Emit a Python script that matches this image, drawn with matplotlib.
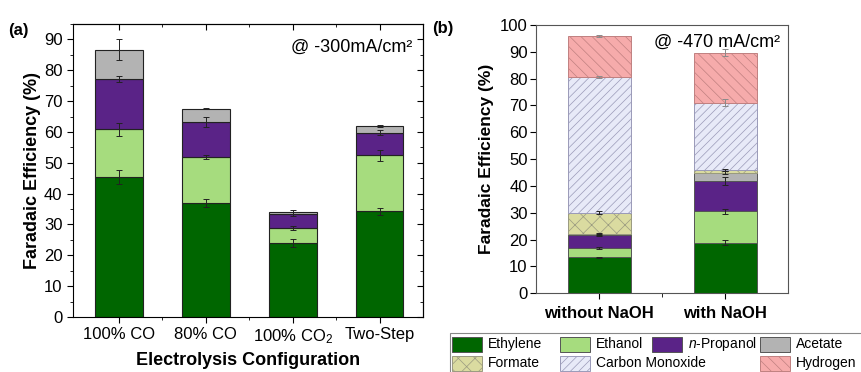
import numpy as np
import matplotlib
matplotlib.use("Agg")
import matplotlib.pyplot as plt
from matplotlib.ticker import MultipleLocator
from matplotlib.patches import Rectangle

plt.rcParams["font.family"] = ["Liberation Sans", "DejaVu Sans"]
plt.rcParams["mathtext.fontset"] = "custom"
plt.rcParams["mathtext.rm"] = "Liberation Sans"
plt.rcParams["mathtext.it"] = "Liberation Sans:italic"
plt.rcParams["mathtext.bf"] = "Liberation Sans:bold"
plt.rcParams["hatch.linewidth"] = 0.5

# ---- panel (a) data: FE (%) per product, stacked ----
configs_a   = ["100% CO", "80% CO", "100% CO$_2$", "Two-Step"]
ethylene_a  = [45.3, 36.9, 24.1, 34.3]
ethanol_a   = [15.5, 15.0, 4.8, 18.2]
propanol_a  = [16.4, 11.3, 4.6, 7.3]
acetate_a   = [9.5, 4.4, 0.6, 2.1]
ethylene_a_err = [2.3, 1.3, 1.3, 1.1]
ethanol_a_err  = [2.0, 0.7, 0.7, 1.8]
propanol_a_err = [1.1, 1.5, 0.6, 0.8]
acetate_a_err  = [3.5, 0.2, 0.6, 0.3]

# ---- panel (b) data ----
configs_b   = ["without NaOH", "with NaOH"]
ethylene_b  = [13.4, 18.9]
ethanol_b   = [3.5, 11.6]
propanol_b  = [4.8, 11.4]
acetate_b   = [0.4, 3.1]
formate_b   = [8.0, 1.1]
co_b        = [50.6, 25.0]
h2_b        = [15.2, 18.6]
ethylene_b_err = [0.3, 1.0]
ethanol_b_err  = [0.4, 0.8]
propanol_b_err = [0.4, 1.5]
acetate_b_err  = [0.2, 0.6]
formate_b_err  = [0.4, 0.4]
co_b_err       = [0.3, 1.2]
h2_b_err       = [0.2, 1.3]

names   = ["Ethylene", "Ethanol", r"$\it{n}$-Propanol", "Acetate",
           "Formate", "Carbon Monoxide", "Hydrogen"]
colors  = ["#006600", "#a6dc7e", "#5a2387", "#b3b3b3",
           "#dadba0", "#e8eaf8", "#f6abab"]
hatches = [None, None, None, None, "xx", "////", "\\\\\\"]
hatch_edges = [None, None, None, None, "#9a9a80", "#9a9ab8", "#c08080"]

fig = plt.figure(figsize=(8.61, 3.72), dpi=100)

# ================= (a) =================
ax1 = fig.add_axes([73/861, 1 - 317/372, 350/861, 293/372])
x_a = np.arange(1, len(configs_a) + 1)
bottom = np.zeros(len(x_a))
for vals, errs, c in zip([ethylene_a, ethanol_a, propanol_a, acetate_a],
                         [ethylene_a_err, ethanol_a_err, propanol_a_err, acetate_a_err],
                         colors[:4]):
    ax1.bar(x_a, vals, 0.55, bottom=bottom, color=c, edgecolor="#222222", linewidth=0.8)
    bottom = bottom + np.array(vals)
    ax1.errorbar(x_a, bottom, yerr=errs, fmt="none", ecolor="#222222",
                 elinewidth=0.7, capsize=2, capthick=0.7)

ax1.set_xlim(0.47, 4.5)
ax1.set_ylim(0, 95)
ax1.set_xticks(x_a)
ax1.set_xticklabels(configs_a, fontsize=12)
ax1.set_xticks([1.5, 2.5, 3.5], minor=True)
ax1.set_yticks(np.arange(0, 91, 10))
ax1.yaxis.set_minor_locator(MultipleLocator(5))
ax1.tick_params(axis="both", which="major", direction="out", length=4, labelsize=12)
ax1.tick_params(axis="both", which="minor", direction="out", length=2.5)
ax1.set_ylabel("Faradaic Efficiency (%)", fontsize=13, fontweight="bold", labelpad=2)
ax1.set_xlabel("Electrolysis Configuration", fontsize=13, fontweight="bold", labelpad=4)

top = ax1.secondary_xaxis("top")
top.set_xticks(x_a)
top.set_xticks([1.5, 2.5, 3.5], minor=True)
top.tick_params(which="major", direction="in", length=4, labeltop=False)
top.tick_params(which="minor", direction="in", length=2.5)
right = ax1.secondary_yaxis("right")
right.set_yticks(np.arange(0, 91, 10))
right.yaxis.set_minor_locator(MultipleLocator(5))
right.tick_params(which="major", direction="in", length=4, labelright=False)
right.tick_params(which="minor", direction="in", length=2.5)

ax1.text(0.97, 0.92, "@ -300mA/cm²", transform=ax1.transAxes, ha="right", va="center", fontsize=13)
fig.text(8/861, 1 - 30/372, "(a)", fontsize=12, fontweight="bold", ha="left", va="center")

# ================= (b) =================
ax2 = fig.add_axes([536/861, 1 - 293.3/372, 252/861, 268.3/372])
x_b = np.arange(1, len(configs_b) + 1)
bottom = np.zeros(len(x_b))
series_b = [ethylene_b, ethanol_b, propanol_b, acetate_b, formate_b, co_b, h2_b]
errs_b = [ethylene_b_err, ethanol_b_err, propanol_b_err, acetate_b_err,
          formate_b_err, co_b_err, h2_b_err]
for i, (vals, errs) in enumerate(zip(series_b, errs_b)):
    edge = hatch_edges[i] if hatch_edges[i] else "#555555"
    ax2.bar(x_b, vals, 0.5, bottom=bottom, color=colors[i], edgecolor=edge,
            linewidth=0.7, hatch=hatches[i])
    bottom = bottom + np.array(vals)
    ecol = "#222222" if i < 5 else "#8a8a8a"
    ax2.errorbar(x_b, bottom, yerr=errs, fmt="none", ecolor=ecol,
                 elinewidth=0.7, capsize=2, capthick=0.7)

ax2.set_xlim(0.5, 2.5)
ax2.set_ylim(0, 100)
ax2.set_xticks(x_b)
ax2.set_xticklabels(configs_b, fontsize=12.5, fontweight="bold")
ax2.set_xticks([1.5], minor=True)
ax2.set_yticks(np.arange(0, 101, 10))
ax2.tick_params(axis="both", which="major", direction="out", length=4, labelsize=12, pad=2)
ax2.tick_params(axis="x", which="minor", direction="out", length=3)
ax2.tick_params(axis="x", which="major", pad=5)
for s in ax2.spines.values():
    s.set_color("#555555")
ax2.set_ylabel("Faradaic Efficiency (%)", fontsize=12.5, fontweight="bold", labelpad=4)
ax2.text(0.97, 0.935, "@ -470 mA/cm²", transform=ax2.transAxes, ha="right", va="center", fontsize=13)
fig.text(432/861, 1 - 28/372, "(b)", fontsize=12, fontweight="bold", ha="left", va="center")

# ================= legend (two rows, frame runs off the figure edge) =================
def fx(px):
    return px / 861

def fy(py):
    return 1 - py / 372

fig.patches.append(Rectangle((fx(450), fy(385)), fx(450), (385 - 333) / 372,
                             transform=fig.transFigure, facecolor="white",
                             edgecolor="#888888", linewidth=0.8))
col_x = [452, 560, 652, 760]
row_y = [344, 363]
layout = [(0, 0, 0), (1, 1, 0), (2, 2, 0), (3, 3, 0), (4, 0, 1), (5, 1, 1), (6, 3, 1)]
for idx, col, row in layout:
    edge = hatch_edges[idx] if hatch_edges[idx] else "#555555"
    fig.patches.append(Rectangle((fx(col_x[col]), fy(row_y[row] + 7.5)), fx(30), 15 / 372,
                                 transform=fig.transFigure, facecolor=colors[idx],
                                 edgecolor=edge, linewidth=0.7, hatch=hatches[idx]))
    fig.text(fx(col_x[col] + 36), fy(row_y[row]), names[idx], fontsize=10,
             ha="left", va="center")

fig.savefig("out.png", dpi=100)
